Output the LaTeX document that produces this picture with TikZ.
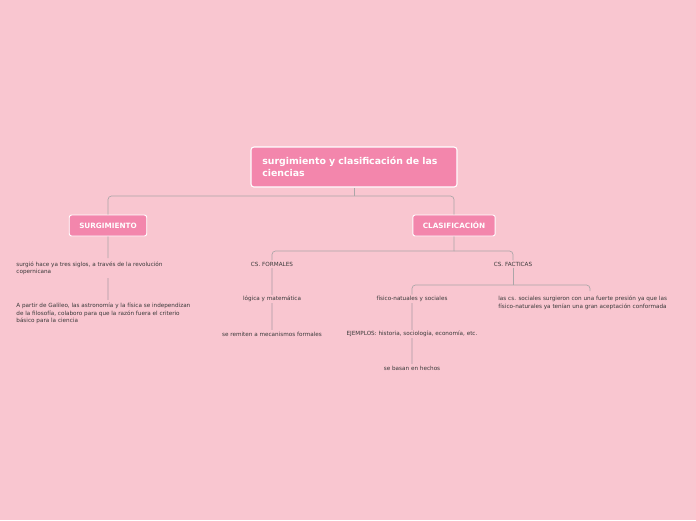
\documentclass[tikz,border=0pt]{standalone}
\usepackage{fontspec}
\setmainfont{DejaVu Sans}
\usetikzlibrary{positioning,backgrounds}
\definecolor{bgpink}{HTML}{F9C6D0}
\definecolor{boxpink}{HTML}{F386AC}
\definecolor{linegray}{HTML}{ACA6A8}
\definecolor{leafline}{HTML}{DDB6C0}
\definecolor{leaftext}{HTML}{3A3A3A}

\tikzset{
  rootbox/.style={draw=white,line width=0.9pt,fill=boxpink,rounded corners=2.5pt,
    text=white,font=\fontsize{8}{10}\selectfont\bfseries,align=left,
    text width=5.5cm,minimum width=6.18cm,minimum height=1.2cm,inner xsep=0.33cm},
  midbox/.style={draw=white,line width=0.8pt,fill=boxpink,rounded corners=2pt,
    text=white,font=\fontsize{6.2}{7.5}\selectfont\bfseries,
    minimum height=0.63cm,inner xsep=0.3cm},
  leaf/.style={fill=bgpink,text=leaftext,font=\fontsize{4.85}{6.1}\selectfont,
    align=left,inner sep=1pt},
  conn/.style={draw=linegray,line width=0.6pt,rounded corners=3pt},
  leafconn/.style={draw=leafline,line width=0.9pt},
}

\begin{document}
\begin{tikzpicture}[x=0.03cm,y=-0.03cm]
  \useasboundingbox (0,0) rectangle (696,520);

  % main topics
  \node[rootbox] (root) at (354,167) {surgimiento y clasificación de las\\ciencias};
  \node[midbox] (surg) at (108,225.5) {SURGIMIENTO};
  \node[midbox] (clas) at (454,225.5) {CLASIFICACIÓN};

  % surgimiento
  \node[leaf,anchor=north west] (hace) at (15,260.5)
    {surgió hace ya tres siglos, a través de la revolución\\copernicana};
  \node[leaf,anchor=north west] (galileo) at (15,302)
    {A partir de Galileo, las astronomía y la física se independizan\\de la filosofía, colaboro para que la razón fuera el criterio\\básico para la ciencia};

  % clasificacion
  \node[leaf] (form) at (272,264) {CS. FORMALES};
  \node[leaf] (logica) at (272,299) {lógica y matemática};
  \node[leaf] (remiten) at (272,334) {se remiten a mecanismos formales};
  \node[leaf] (fact) at (513,264) {CS. FACTICAS};
  \node[leaf] (fisico) at (412,299) {físico-natuales y sociales};
  \node[leaf] (ejemplos) at (412,334) {EJEMPLOS: historia, sociología, economía, etc.};
  \node[leaf] (hechos) at (412,368) {se basan en hechos};
  \node[leaf,anchor=north west] (sociales) at (497,295)
    {las cs. sociales surgieron con una fuerte presión ya que las\\físico-naturales ya tenían una gran aceptación conformada};

  \coordinate (f0) at (354,196);
  \coordinate (f1) at (454,251);
  \coordinate (f2) at (513,285);
  \coordinate (socend) at (590,291);

  \begin{scope}[on background layer]
    \fill[bgpink] (0,0) rectangle (696,520);
    \draw[conn] (root.south) -- (f0);
    \draw[conn] (f0) -| (108,258);
    \draw[conn] (f0) -| (f1);
    \draw[conn] (f1) -| (form.north);
    \draw[conn] (f1) -| (fact.north);
    \draw[conn] (fact.south) -- (f2);
    \draw[conn] (f2) -| (fisico.north);
    \draw[conn] (f2) -| (socend);
    \draw[leafconn] (108,278) -- (108,300);
    \draw[leafconn] (form.south) -- (logica.north);
    \draw[leafconn] (logica.south) -- (remiten.north);
    \draw[leafconn] (fisico.south) -- (ejemplos.north);
    \draw[leafconn] (ejemplos.south) -- (hechos.north);
  \end{scope}
\end{tikzpicture}
\end{document}
